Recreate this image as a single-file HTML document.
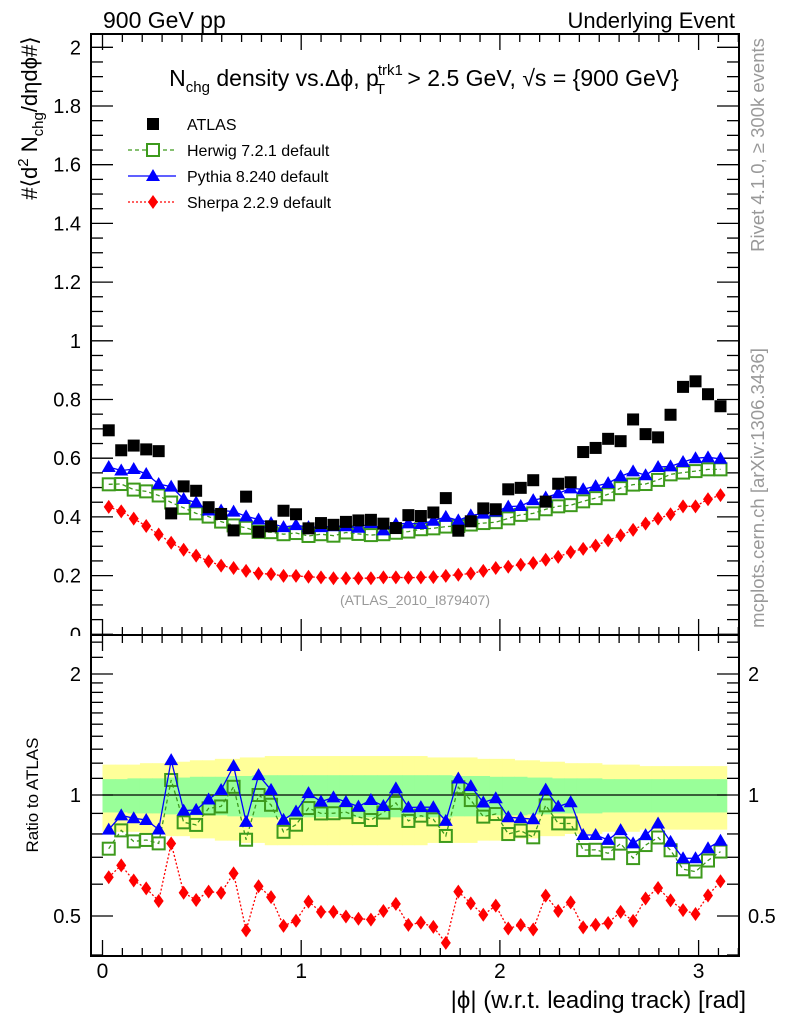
<!DOCTYPE html>
<html><head><meta charset="utf-8"><style>
html,body{margin:0;padding:0;background:#fff;}
svg{display:block;font-family:"Liberation Sans",sans-serif;}
</style></head><body>
<svg id="chart" width="786" height="1024" viewBox="0 0 786 1024" xmlns="http://www.w3.org/2000/svg">
<g id="bands"></g>
<g id="axes"></g>
<g id="series"></g>
<g id="texts">
<text x="103" y="28" font-size="23">900 GeV pp</text>
<text x="735" y="28" font-size="22" text-anchor="end">Underlying Event</text>
<text x="424" y="86" font-size="23" text-anchor="middle">N<tspan font-size="15" dy="6">chg</tspan><tspan dy="-6"> density vs.Δϕ, p</tspan><tspan font-size="15" dx="-1" dy="-11">trk1</tspan><tspan font-size="15" dx="-27" dy="19">T</tspan><tspan dx="16" dy="-8"> &gt; 2.5 GeV, √s = {900 GeV}</tspan></text>
<text transform="translate(37,118) rotate(-90)" font-size="22" text-anchor="middle">#⟨d<tspan font-size="15" dy="-9">2</tspan><tspan dy="9"> N</tspan><tspan font-size="15" dy="6">chg</tspan><tspan dy="-6">/dηdϕ#⟩</tspan></text>
<text x="415" y="605" font-size="14" fill="#999" text-anchor="middle">(ATLAS_2010_I879407)</text>
<text transform="translate(764,145) rotate(-90)" font-size="18.5" fill="#999" text-anchor="middle">Rivet 4.1.0, ≥ 300k events</text>
<text transform="translate(764,488) rotate(-90)" font-size="18.5" fill="#999" text-anchor="middle">mcplots.cern.ch [arXiv:1306.3436]</text>
<text transform="translate(38,795) rotate(-90)" font-size="17" text-anchor="middle">Ratio to ATLAS</text>
<text x="746" y="1008" font-size="24" text-anchor="end">|ϕ| (w.r.t. leading track) [rad]</text>
</g>
<g id="legend">
<g><rect x="147" y="118" width="12" height="12" fill="#000"/><text x="187" y="130" font-size="16">ATLAS</text></g>
<g><line x1="128" y1="150" x2="176" y2="150" stroke="#3d9a1c" stroke-width="1.3" stroke-dasharray="4,3"/><rect x="147" y="144" width="12" height="12" fill="#fff" stroke="#3d9a1c" stroke-width="2"/><text x="187" y="156" font-size="16">Herwig 7.2.1 default</text></g>
<g><line x1="128" y1="176" x2="176" y2="176" stroke="#0000ff" stroke-width="1.3"/><polygon points="153,169 160,181 146,181" fill="#0000ff"/><text x="187" y="182" font-size="16">Pythia 8.240 default</text></g>
<g><line x1="128" y1="202" x2="176" y2="202" stroke="#ff0000" stroke-width="1.3" stroke-dasharray="2,2"/><polygon points="153,195 158,202 153,209 148,202" fill="#ff0000"/><text x="187" y="208" font-size="16">Sherpa 2.2.9 default</text></g>
</g>
</svg>
<script>
const atlas=[0.695,0.627,0.643,0.63,0.624,0.412,0.504,0.489,0.433,0.41,0.354,0.469,0.349,0.368,0.421,0.409,0.361,0.379,0.373,0.383,0.388,0.39,0.377,0.362,0.406,0.403,0.415,0.464,0.353,0.385,0.429,0.426,0.494,0.499,0.525,0.452,0.513,0.518,0.621,0.635,0.666,0.658,0.732,0.682,0.671,0.748,0.843,0.862,0.818,0.777];
const herwig=[0.511,0.512,0.493,0.487,0.473,0.449,0.431,0.412,0.401,0.384,0.371,0.363,0.349,0.348,0.341,0.345,0.335,0.341,0.336,0.347,0.342,0.338,0.341,0.346,0.35,0.358,0.361,0.367,0.369,0.374,0.379,0.382,0.395,0.407,0.412,0.426,0.436,0.44,0.453,0.464,0.477,0.498,0.51,0.512,0.526,0.545,0.551,0.556,0.562,0.562];
const pythia=[0.57,0.558,0.563,0.546,0.512,0.503,0.461,0.449,0.422,0.422,0.418,0.402,0.391,0.379,0.365,0.372,0.365,0.365,0.368,0.368,0.363,0.379,0.354,0.376,0.378,0.376,0.387,0.40,0.388,0.405,0.411,0.418,0.435,0.437,0.457,0.466,0.48,0.497,0.494,0.505,0.515,0.538,0.555,0.542,0.57,0.572,0.587,0.6,0.603,0.598];
const sherpa=[0.434,0.419,0.394,0.369,0.340,0.312,0.288,0.268,0.249,0.234,0.226,0.216,0.207,0.205,0.199,0.199,0.196,0.194,0.191,0.191,0.191,0.191,0.194,0.194,0.193,0.194,0.195,0.199,0.203,0.207,0.216,0.226,0.230,0.237,0.243,0.254,0.264,0.280,0.291,0.302,0.320,0.337,0.356,0.377,0.394,0.409,0.436,0.436,0.460,0.474];
const statErr=[.095,.095,.1,.1,.1,.105,.105,.11,.11,.11,.115,.115,.12,.12,.12,.12,.12,.12,.12,.12,.12,.12,.12,.12,.12,.12,.12,.12,.115,.115,.115,.11,.11,.11,.105,.105,.1,.1,.1,.1,.095,.095,.095,.095,.095,.095,.095,.095,.095,.095];
const totErr=[.19,.19,.19,.2,.2,.21,.21,.22,.22,.23,.23,.24,.24,.25,.25,.25,.25,.25,.25,.25,.25,.25,.25,.25,.25,.25,.24,.24,.24,.24,.23,.23,.23,.22,.22,.21,.21,.2,.2,.2,.19,.19,.19,.18,.18,.18,.18,.18,.18,.18];
const xTicks=[0,1,2,3];
const yTicks=[0,0.2,0.4,0.6,0.8,1,1.2,1.4,1.6,1.8,2];
const yTickLabels=["0","0.2","0.4","0.6","0.8","1","1.2","1.4","1.6","1.8","2"];
const rTicks=[0.5,1,2];
const rTickLabels=["0.5","1","2"];

const NS="http://www.w3.org/2000/svg";
const L=91,Rt=739,T=34,MB=635,RB=956;
const X=v=>102.5+198.7*v;
const Y=v=>634.3-293.5*v;
const RY=r=>795-174.6*Math.log(r);
const nb=atlas.length, bw=Math.PI/nb;
const bc=i=>(i+0.5)*bw;
function mk(tag,attrs,parent){const e=document.createElementNS(NS,tag);for(const k in attrs)e.setAttribute(k,attrs[k]);parent.appendChild(e);return e;}
const bands=document.getElementById('bands'),axes=document.getElementById('axes'),series=document.getElementById('series');

for(let i=0;i<nb;i++){
  const x0=X(i*bw),x1=X((i+1)*bw);
  const y=mk('rect',{x:x0,y:RY(1+totErr[i]),width:x1-x0+0.5,height:RY(1-totErr[i])-RY(1+totErr[i]),fill:'#ffff99'},bands);
  
  
}
for(let i=0;i<nb;i++){
  const x0=X(i*bw),x1=X((i+1)*bw);
  const g=mk('rect',{x:x0,y:RY(1+statErr[i]),width:x1-x0+0.5,height:RY(1-statErr[i])-RY(1+statErr[i]),fill:'#99ff99'},bands);
  
  
}
const one=mk('line',{x1:X(0),x2:X(Math.PI),y1:RY(1),y2:RY(1),stroke:'#000','stroke-width':1.3},bands);



const f1=mk('rect',{x:L,y:T,width:Rt-L,height:MB-T,fill:'none',stroke:'#000','stroke-width':2},axes);


const f2=mk('rect',{x:L,y:MB,width:Rt-L,height:RB-MB,fill:'none',stroke:'#000','stroke-width':2},axes);



function tick(x1,y1,x2,y2){const t=mk('line',{x1,y1,x2,y2,stroke:'#000','stroke-width':1.3},axes);}
for(let k=0;k<=32;k++){const v=k/10;const x=X(v);const maj=(k%10===0);const len=maj?16:8;
  tick(x,MB,x,MB-len);tick(x,T,x,T+len);tick(x,RB,x,RB-len);tick(x,MB,x,MB+len);}
xTicks.forEach(v=>{const t=mk('text',{x:X(v),y:978,'font-size':21,'text-anchor':'middle'},axes);t.textContent=String(v);
  });
for(let k=0;k<=41;k++){const v=k*0.05;const y=Y(v);if(y<T)continue;const maj=(k%4===0);const len=maj?22:12;
  tick(L,y,L+len,y);tick(Rt,y,Rt-len,y);}
yTicks.forEach((v,i)=>{const t=mk('text',{x:81,y:Y(v)+7,'font-size':20,'text-anchor':'end'},axes);t.textContent=yTickLabels[i];
  });
mk('rect',{x:40,y:636,width:50,height:14,fill:'#fff'},axes);
const rMinor=[0.4,0.6,0.7,0.8,0.9,1.1,1.2,1.3,1.4,1.5,1.6,1.7,1.8,1.9,2.2,2.4];
rMinor.forEach(r=>{const y=RY(r);tick(L,y,L+12,y);tick(Rt,y,Rt-12,y);});
rTicks.forEach((r,i)=>{const y=RY(r);tick(L,y,L+22,y);tick(Rt,y,Rt-22,y);
  const a=mk('text',{x:81,y:y+7,'font-size':20,'text-anchor':'end'},axes);a.textContent=rTickLabels[i];
  
  const b=mk('text',{x:748,y:y+7,'font-size':20},axes);b.textContent=rTickLabels[i];
  });

function line(vals,yf,color,dash,name){
  const pts=vals.map((v,i)=>X(bc(i)).toFixed(1)+','+yf(v).toFixed(1)).join(' ');
  const p=mk('polyline',{points:pts,fill:'none',stroke:color,'stroke-width':1.3,'stroke-dasharray':dash},series);
  
  
}
function markers(vals,yf,type,name){
  vals.forEach((v,i)=>{const x=X(bc(i)),y=yf(v);let m;
    if(type==='sq')m=mk('rect',{x:x-6,y:y-6,width:12,height:12,fill:'#000'},series);
    else if(type==='osq')m=mk('rect',{x:x-6,y:y-6,width:12,height:12,fill:'none',stroke:'#3d9a1c','stroke-width':2},series);
    else if(type==='tri')m=mk('polygon',{points:`${x},${y-7} ${x+7},${y+5} ${x-7},${y+5}`,fill:'#0000ff'},series);
    else m=mk('polygon',{points:`${x},${y-7} ${x+5},${y} ${x},${y+7} ${x-5},${y}`,fill:'#ff0000'},series);
    
    
  });
}
line(sherpa,Y,'#ff0000','2,2','sherpa-line');markers(sherpa,Y,'dia','sherpa-point');
line(herwig,Y,'#3d9a1c','4,3','herwig-line');markers(herwig,Y,'osq','herwig-point');
line(pythia,Y,'#0000ff','none','pythia-line');markers(pythia,Y,'tri','pythia-point');
markers(atlas,Y,'sq','atlas-point');
const rH=herwig.map((v,i)=>v/atlas[i]),rP=pythia.map((v,i)=>v/atlas[i]),rS=sherpa.map((v,i)=>v/atlas[i]);
line(rS,RY,'#ff0000','2,2','sherpa-ratio-line');markers(rS,RY,'dia','sherpa-ratio-point');
line(rH,RY,'#3d9a1c','4,3','herwig-ratio-line');markers(rH,RY,'osq','herwig-ratio-point');
line(rP,RY,'#0000ff','none','pythia-ratio-line');markers(rP,RY,'tri','pythia-ratio-point');
</script>
</body></html>
